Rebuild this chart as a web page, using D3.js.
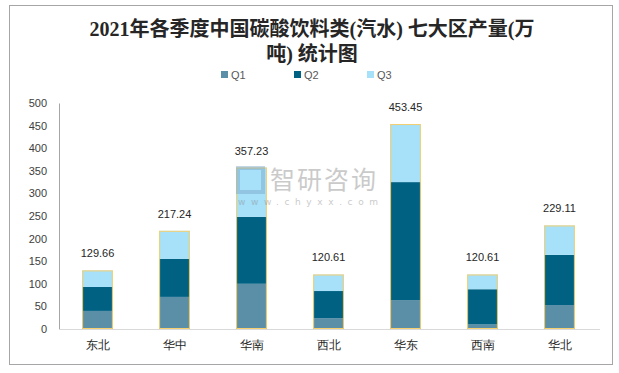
<!DOCTYPE html>
<html>
<head>
<meta charset="utf-8">
<script src="https://cdn.jsdelivr.net/npm/d3@7"></script>
<style>
  body { margin: 0; background: #fff; }
  svg { display: block; font-family: "Noto Sans CJK SC", "Noto Sans", sans-serif; }
</style>
</head>
<body>
<div id="chart"></div>
<script>
const regions = ["东北", "华中", "华南", "西北", "华东", "西南", "华北"];
const q1 = [40, 71, 100, 24, 64, 10, 53];
const q2 = [53, 84, 148, 60, 261, 78, 111];
const q3 = [36.66, 62.24, 109.23, 36.61, 128.45, 32.61, 65.11];
const totals = ["129.66", "217.24", "357.23", "120.61", "453.45", "120.61", "229.11"];
const seriesNames = ["Q1", "Q2", "Q3"];
const yTicks = [0, 50, 100, 150, 200, 250, 300, 350, 400, 450, 500];

const colors = ["#5b8fa8", "#006183", "#a6e0f9"];
const W = 619, H = 373;

const svg = d3.select("#chart").append("svg")
  .attr("width", W).attr("height", H);

// outer frame
svg.append("rect")
  .attr("x", 9.5).attr("y", 5.5)
  .attr("width", 603).attr("height", 359)
  .attr("fill", "#fff").attr("stroke", "#a6a6a6");

// title
const title = svg.append("text")
  .attr("text-anchor", "middle")
  .attr("font-size", 20).attr("font-weight", "bold")
  .attr("fill", "#262626")
  .attr("font-family", "'Liberation Serif', 'Noto Sans CJK SC', serif");
title.append("tspan").attr("x", 312).attr("y", 36).text("2021年各季度中国碳酸饮料类(汽水) 七大区产量(万");
title.append("tspan").attr("x", 312).attr("y", 61).text("吨) 统计图");

// legend
const legend = svg.append("g").selectAll("g")
  .data(seriesNames).join("g")
  .attr("transform", (d, i) => "translate(" + (221 + i * 73) + ",71)");
legend.append("rect").attr("width", 7).attr("height", 7)
  .attr("fill", (d, i) => colors[i]);
legend.append("text").attr("x", 10).attr("y", 7.5)
  .attr("font-size", 11).attr("fill", "#595959")
  .attr("font-family", "'Liberation Sans', Arial, sans-serif")
  .text(d => d);

const x = d3.scaleBand().domain(regions)
  .range([59, 598]).paddingInner(0.6).paddingOuter(0.3);
const y = d3.scaleLinear().domain([0, 500]).range([329, 103]);

// y axis
const yAxis = svg.append("g")
  .attr("transform", "translate(59,0)")
  .call(d3.axisLeft(y).tickValues(yTicks).tickSize(0).tickPadding(12));
yAxis.select(".domain").attr("stroke", "#a6a6a6");
yAxis.selectAll("text").attr("font-size", 11).attr("fill", "#404040")
  .attr("font-family", "'Liberation Sans', Arial, sans-serif");

// x axis
const xAxis = svg.append("g")
  .attr("transform", "translate(0,329)")
  .call(d3.axisBottom(x).tickSize(0).tickPadding(11));
xAxis.select(".domain").attr("stroke", "#d9d9d9").attr("d", "M59,0.5H600");
xAxis.selectAll("text").attr("font-size", 12).attr("fill", "#262626");

// stacked bars
const rows = regions.map((r, i) => ({ region: r, Q1: q1[i], Q2: q2[i], Q3: q3[i] }));
const stack = d3.stack().keys(seriesNames)(rows);

svg.append("g").selectAll("g")
  .data(stack).join("g")
  .attr("fill", (d, i) => colors[i])
  .selectAll("rect")
  .data(d => d).join("rect")
  .attr("x", d => x(d.data.region))
  .attr("y", d => y(d[1]))
  .attr("width", x.bandwidth())
  .attr("height", d => y(d[0]) - y(d[1]));

// yellow outline around each stack
svg.append("g").selectAll("rect")
  .data(rows).join("rect")
  .attr("x", d => x(d.region) + 0.5)
  .attr("y", d => y(d.Q1 + d.Q2 + d.Q3) + 0.5)
  .attr("width", x.bandwidth() - 1)
  .attr("height", d => y(0) - y(d.Q1 + d.Q2 + d.Q3) - 1)
  .attr("fill", "none").attr("stroke", "#f6cf6e").attr("stroke-width", 1);

// total labels
svg.append("g").selectAll("text")
  .data(rows).join("text")
  .attr("x", d => x(d.region) + x.bandwidth() / 2)
  .attr("y", d => y(d.Q1 + d.Q2 + d.Q3) - 13)
  .attr("text-anchor", "middle")
  .attr("font-size", 11).attr("fill", "#262626")
  .attr("font-family", "'Liberation Sans', Arial, sans-serif")
  .text((d, i) => totals[i]);

// watermark
const wm = svg.append("g").attr("opacity", 0.45);
wm.append("rect").attr("x", 238).attr("y", 168).attr("width", 25).attr("height", 24)
  .attr("fill", "none").attr("stroke", "#7aa6c8").attr("stroke-width", 4);
wm.append("text").attr("x", 270).attr("y", 189)
  .attr("font-size", 25).attr("fill", "#8c8c8c").attr("letter-spacing", 2)
  .text("智研咨询");
wm.append("text").attr("x", 238).attr("y", 205)
  .attr("font-size", 9).attr("fill", "#8c8c8c").attr("letter-spacing", 5.6)
  .attr("font-family", "'DejaVu Sans', sans-serif")
  .text("www.chyxx.com");
</script>
</body>
</html>
